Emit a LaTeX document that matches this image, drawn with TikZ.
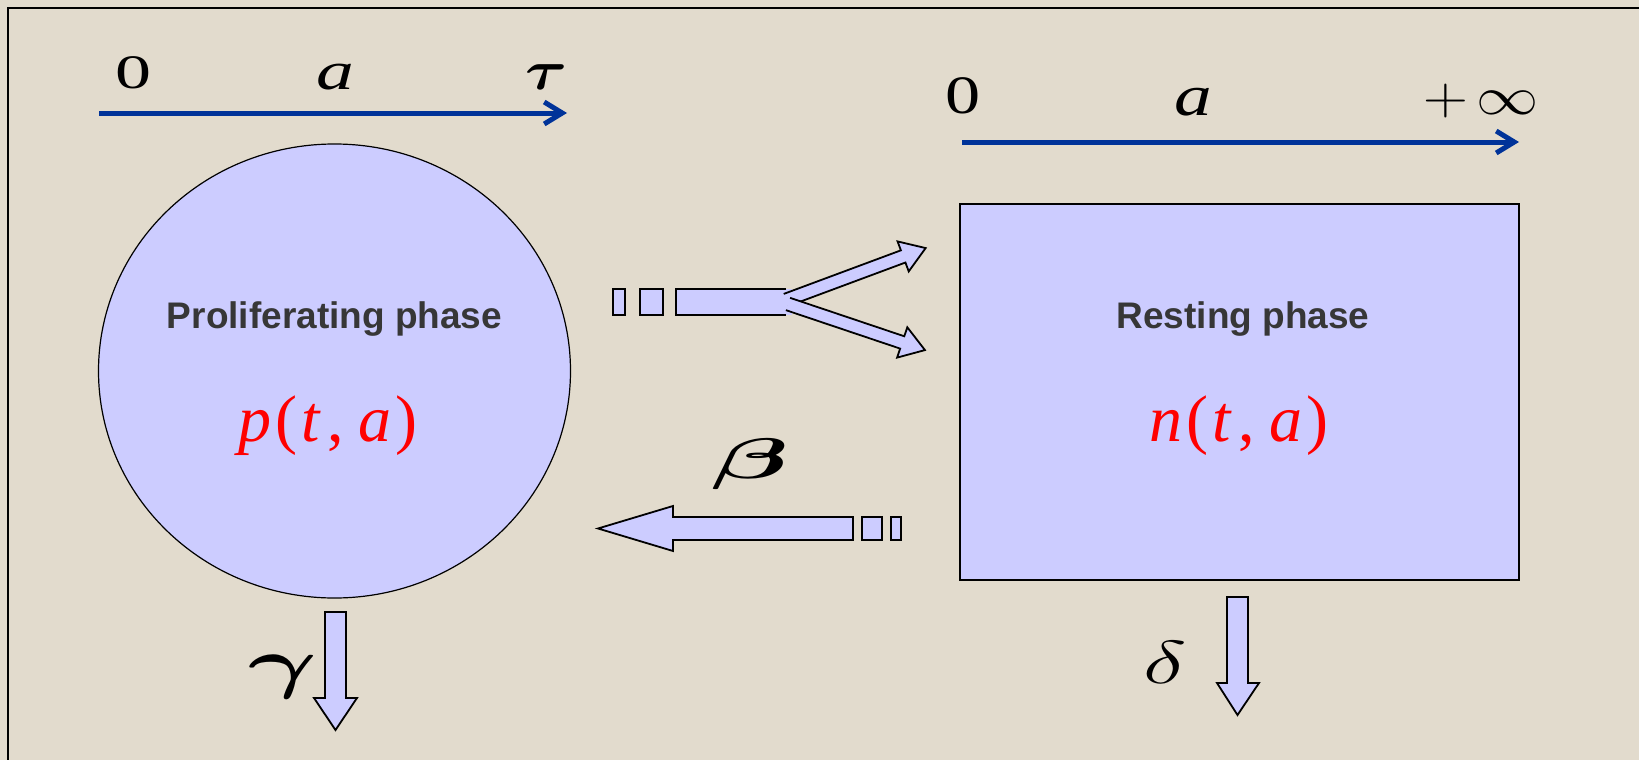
\documentclass[tikz,border=0pt]{standalone}
\usepackage{fontspec}
\usepackage{graphicx}
\usepackage{bm}
\setmainfont{Liberation Serif}
\newfontfamily\phasefont{Liberation Sans}
\usetikzlibrary{arrows.meta,shapes.geometric}
\definecolor{bgbeige}{RGB}{226,219,205}
\definecolor{lav}{RGB}{204,204,255}
\definecolor{axisblue}{RGB}{0,51,153}
\definecolor{labgray}{RGB}{55,55,55}
\definecolor{eqred}{RGB}{255,0,0}
\newcommand{\xstr}[2]{\scalebox{#1}[1]{#2}}
\newcommand{\xyscl}[3]{\scalebox{#1}[#2]{#3}}
\tikzset{
  blockarrow/.style={fill=lav,draw=black,line width=0.9pt,line join=miter},
  axisline/.style={draw=axisblue,line width=2.5pt,-{Straight Barb[length=9pt,width=11pt]}},
  axislab/.style={anchor=base,inner sep=0pt,font=\fontsize{24}{24}\selectfont},
  raxislab/.style={anchor=base,inner sep=0pt,font=\fontsize{27}{27}\selectfont},
  mathlab/.style={inner sep=0pt,font=\fontsize{24.88}{25}\selectfont},
  phaselab/.style={anchor=base,inner sep=0pt,text=labgray,font=\phasefont\bfseries\fontsize{18.5}{20}\selectfont},
  eqlab/.style={anchor=base,inner sep=0pt,text=eqred,font=\fontsize{33}{34}\selectfont}
}
\begin{document}
\begin{tikzpicture}[x=0.5pt,y=-0.5pt]
\useasboundingbox (0,0) rectangle (1639,760);
\fill[bgbeige] (0,0) rectangle (1639,760);
\draw[line width=1pt] (7.5,760) -- (7.5,7.5) -- (1639,7.5);

% left axis
\coordinate (la0) at (99,113);
\coordinate (la1) at (567,113);
\draw[axisline] (la0) -- (la1);
\node[axislab] (lzero) at (133,88) {\xstr{1.5}{0}};
\node[axislab,font=\fontsize{27}{27}\selectfont] (la) at (335,89) {\xstr{1.4}{\itshape a}};
\node[mathlab,anchor=base] (ltau) at (547,89) {\xyscl{1.29}{1.125}{$\bm{\tau}$}};

% right axis
\coordinate (ra0) at (962,142);
\coordinate (ra1) at (1519,142);
\draw[axisline] (ra0) -- (ra1);
\node[raxislab] (rzero) at (963,113) {\xstr{1.3}{0}};
\node[raxislab,font=\fontsize{29}{29}\selectfont] (ra) at (1193,115) {\xstr{1.3}{\itshape a}};
\node[mathlab,anchor=base] (rinf) at (1481,114) {\xyscl{1.25}{1.085}{$+\kern3pt\infty$}};

% compartments
\node[ellipse,draw=black,line width=0.6pt,fill=lav,minimum width=236pt,minimum height=227pt,inner sep=0pt] (prolif) at (334.5,371) {};
\node[rectangle,draw=black,line width=0.8pt,fill=lav,minimum width=279.5pt,minimum height=188pt,inner sep=0pt] (rest) at (1239.5,392) {};
\node[phaselab] (ptitle) at (334.5,328) {Proliferating phase};
\node[phaselab] (rtitle) at (1243,328) {Resting phase};
\node[eqlab] (peq) at (328,441) {{\itshape p}\kern2pt(\kern2pt{\itshape t}\kern4pt,\kern7pt{\itshape a}\kern2pt)};
\node[eqlab] (neq) at (1239,441) {{\itshape n}\kern2pt(\kern2pt{\itshape t}\kern4pt,\kern7pt{\itshape a}\kern2pt)};

% split arrow (proliferating -> resting)
\filldraw[blockarrow] (613,289) rectangle (625,315);
\filldraw[blockarrow] (640,289) rectangle (663,315);
\fill[lav] (676,289) rectangle (792,315);
\draw[blockarrow,fill=none] (786,289) -- (676,289) -- (676,315) -- (786,315);
\begin{scope}[shift={(786,300)},rotate=20.4]
  \filldraw[blockarrow] (0,6.5) -- (125,6.5) -- (125,16) -- (149,0) -- (125,-16) -- (125,-6.5) -- (0,-6.5);
\end{scope}
\begin{scope}[shift={(788,304)},rotate=-18.6]
  \filldraw[blockarrow] (0,6.5) -- (120.5,6.5) -- (120.5,16) -- (144.5,0) -- (120.5,-16) -- (120.5,-6.5) -- (0,-6.5);
\end{scope}

% beta arrow (resting -> proliferating)
\filldraw[blockarrow] (853,517) -- (673,517) -- (673,506) -- (598,528.5) -- (673,551) -- (673,540) -- (853,540) -- cycle;
\filldraw[blockarrow] (862,517) rectangle (882,540);
\filldraw[blockarrow] (891,517) rectangle (901,540);
\node[mathlab] (beta) at (750,464) {\xyscl{2.25}{1.15}{$\bm{\beta}$}};

% loss arrows
\filldraw[blockarrow] (325,612) -- (346,612) -- (346,698) -- (357,698) -- (335.5,730) -- (314,698) -- (325,698) -- cycle;
\node[mathlab] (gamma) at (283,677) {\xyscl{2.12}{1.367}{$\bm{\gamma}$}};
\filldraw[blockarrow] (1227,597) -- (1248,597) -- (1248,683) -- (1259,683) -- (1237.5,715) -- (1217,683) -- (1227,683) -- cycle;
\node[mathlab] (delta) at (1165,662) {\xyscl{1.85}{1.22}{$\delta$}};
\end{tikzpicture}
\end{document}
